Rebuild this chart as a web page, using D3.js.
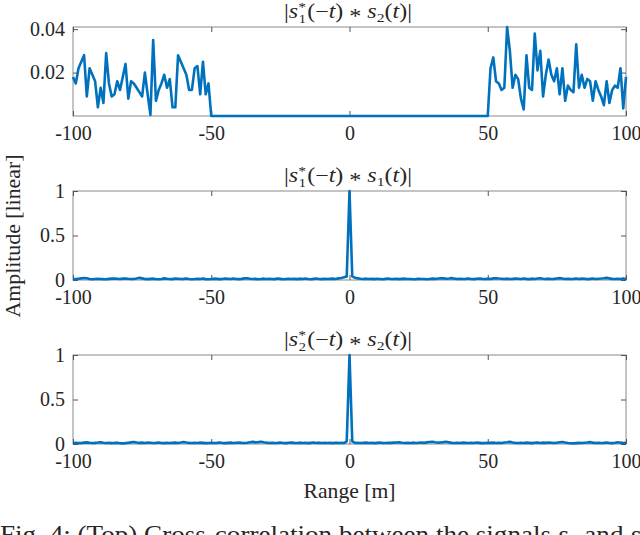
<!DOCTYPE html>
<html><head><meta charset="utf-8">
<script src="https://cdn.jsdelivr.net/npm/d3@7"></script>
<style>body{margin:0;background:#fff}svg{display:block}text{font-family:"Liberation Serif","Times New Roman",serif;fill:#262626}</style>
</head><body><svg id="c" width="640" height="535"></svg>
<script>
const xStart = -100, xStep = 1;
const xTicks = [-100, -50, 0, 50, 100];
const xTickLabels = ["-100", "-50", "0", "50", "100"];
const topTicks = [0.02, 0.04], topTickLabels = ["0.02", "0.04"];
const autoTicks = [0, 0.5, 1], autoTickLabels = ["0", "0.5", "1"];

const cross12 = [
.018,.015,.022,.025,.028,.009,.022,.019,.016,.004,
.013,.006,.029,.015,.009,.010,.016,.012,.018,.024,
.008,.016,.015,.013,.011,.009,.020,.010,.0005,.035,
.007,.012,.015,.019,.013,.017,.004,.004,.028,.025,
.022,.019,.012,.012,.022,.023,.010,.025,.010,.015,
0,0,0,0,0,0,0,0,0,0, 0,0,0,0,0,0,0,0,0,0,
0,0,0,0,0,0,0,0,0,0, 0,0,0,0,0,0,0,0,0,0,
0,0,0,0,0,0,0,0,0,0, 0,0,0,0,0,0,0,0,0,0,
0,0,0,0,0,0,0,0,0,0, 0,0,0,0,0,0,0,0,0,0,
0,0,0,0,0,0,0,0,0,0, 0,0,0,0,0,0,0,0,0,0,
0,
.022,.027,.016,.015,.012,.013,.041,.030,.013,.019,
.017,.008,.003,.028,.013,.012,.038,.021,.030,.009,
.019,.026,.019,.016,.022,.010,.022,.007,.014,.012,
.011,.033,.013,.019,.013,.017,.016,.007,.016,.012,
.009,.005,.016,.006,.012,.014,.013,.022,.0035,.018];

const auto11 = [
.012,.010,.014,.018,.022,.020,.012,.009,.011,.013,
.012,.010,.009,.013,.015,.016,.014,.012,.015,.017,
.014,.012,.011,.016,.024,.018,.012,.010,.013,.015,
.011,.009,.012,.018,.014,.012,.010,.016,.014,.011,
.013,.017,.012,.009,.011,.014,.012,.016,.010,.008,
.011,.015,.013,.010,.012,.016,.014,.011,.017,.012,
.010,.013,.018,.020,.014,.011,.013,.009,.012,.015,
.011,.014,.012,.010,.016,.013,.009,.012,.014,.011,
.013,.010,.015,.012,.017,.011,.009,.013,.016,.012,
.010,.014,.011,.013,.015,.012,.018,.022,.030,.040,
1,
.040,.025,.018,.014,.012,.015,.011,.013,.010,.014,
.012,.009,.013,.016,.011,.012,.014,.010,.013,.015,
.011,.012,.009,.010,.014,.012,.011,.008,.012,.015,
.013,.016,.020,.018,.014,.017,.021,.015,.012,.014,
.011,.013,.016,.012,.010,.014,.017,.013,.011,.015,
.012,.018,.020,.016,.014,.012,.015,.011,.013,.016,
.014,.012,.017,.013,.010,.015,.012,.016,.019,.014,
.012,.015,.011,.013,.017,.021,.016,.012,.014,.011,
.013,.016,.012,.015,.014,.010,.013,.017,.012,.014,
.016,.019,.024,.018,.013,.011,.014,.012,.016,.010];

const auto22 = [
.011,.013,.010,.012,.015,.018,.014,.011,.013,.016,
.020,.014,.011,.013,.010,.012,.015,.009,.007,.010,
.014,.018,.022,.016,.013,.015,.012,.017,.014,.011,
.013,.016,.012,.010,.014,.011,.013,.015,.012,.016,
.022,.017,.013,.011,.014,.012,.015,.013,.010,.012,
.014,.011,.013,.016,.012,.010,.013,.015,.012,.014,
.016,.013,.011,.014,.020,.024,.018,.021,.026,.019,
.015,.012,.014,.011,.013,.016,.012,.010,.014,.017,
.013,.011,.015,.012,.014,.010,.013,.016,.012,.015,
.011,.014,.012,.013,.010,.015,.012,.014,.011,.030,
1,
.030,.012,.014,.011,.013,.015,.012,.014,.010,.013,
.016,.012,.011,.014,.013,.015,.017,.020,.014,.012,
.013,.011,.015,.012,.014,.016,.013,.018,.022,.025,
.019,.015,.017,.021,.026,.018,.013,.011,.014,.012,
.015,.013,.011,.014,.012,.016,.013,.010,.012,.014,
.013,.015,.012,.014,.011,.016,.019,.024,.017,.013,
.011,.014,.012,.015,.013,.010,.014,.016,.012,.015,
.013,.017,.014,.011,.015,.019,.022,.016,.012,.009,
.007,.010,.013,.011,.014,.017,.021,.015,.012,.014,
.011,.013,.016,.012,.010,.014,.019,.015,.012,.013];

const svg = d3.select("#c");
const L = 73, R = 626, FS = 20;
const x = d3.scaleLinear().domain([-100, 100]).range([L, R]);

const panels = [
  {data: cross12, top: 27, bot: 116, dom: [0, 0.041], ticks: topTicks, labels: topTickLabels, a: "1", b: "2"},
  {data: auto11, top: 191, bot: 280, dom: [0, 1], ticks: autoTicks, labels: autoTickLabels, a: "1", b: "1"},
  {data: auto22, top: 355, bot: 444, dom: [0, 1], ticks: autoTicks, labels: autoTickLabels, a: "2", b: "2"}
];

panels.forEach(p => {
  const y = d3.scaleLinear().domain(p.dom).range([p.bot, p.top]);
  const g = svg.append("g");
  g.append("rect").attr("x", L).attr("y", p.top).attr("width", R - L).attr("height", p.bot - p.top)
    .attr("fill", "none").attr("stroke", "#8a8a8a").attr("stroke-width", 1);
  const tl = 5;
  const xb = d3.axisBottom(x).tickValues(xTicks).tickSize(-tl).tickFormat((d, i) => xTickLabels[i]).tickPadding(12);
  const gxb = g.append("g").attr("transform", `translate(0,${p.bot})`).call(xb);
  gxb.select(".domain").remove();
  gxb.selectAll("line").attr("stroke", "#555");
  gxb.selectAll("text").attr("font-size", FS).attr("fill", "#262626").attr("dy", "0.71em").attr("y", 10)
    .style("font-family", '"Liberation Serif",serif');
  const xt = d3.axisTop(x).tickValues(xTicks).tickSize(-tl).tickFormat("");
  const gxt = g.append("g").attr("transform", `translate(0,${p.top})`).call(xt);
  gxt.select(".domain").remove(); gxt.selectAll("line").attr("stroke", "#555");
  const yl = d3.axisLeft(y).tickValues(p.ticks).tickSize(-tl).tickFormat((d, i) => p.labels[i]).tickPadding(8);
  const gyl = g.append("g").attr("transform", `translate(${L},0)`).call(yl);
  gyl.select(".domain").remove(); gyl.selectAll("line").attr("stroke", "#555");
  gyl.selectAll("text").attr("font-size", FS).attr("fill", "#262626").style("font-family", '"Liberation Serif",serif');
  const yr = d3.axisRight(y).tickValues(p.ticks).tickSize(-tl).tickFormat("");
  const gyr = g.append("g").attr("transform", `translate(${R},0)`).call(yr);
  gyr.select(".domain").remove(); gyr.selectAll("line").attr("stroke", "#555");
  const line = d3.line().x((d, i) => x(xStart + i * xStep)).y(d => y(d));
  g.append("path").datum(p.data).attr("d", line).attr("fill", "none")
    .attr("stroke", "#0072BD").attr("stroke-width", 2.6).attr("stroke-linejoin", "round");
  const t = g.append("text").attr("x", 284).attr("y", p.top - 9).attr("font-size", 20)
    .attr("textLength", 128).attr("lengthAdjust", "spacingAndGlyphs");
  t.append("tspan").text("|");
  t.append("tspan").attr("font-style", "italic").text("s");
  t.append("tspan").attr("font-size", 13).attr("dy", -7).text("*");
  t.append("tspan").attr("font-size", 12).attr("dx", -6).attr("dy", 12).text(p.a);
  t.append("tspan").attr("dy", -5).attr("dx", 1).text("(−");
  t.append("tspan").attr("font-style", "italic").text("t");
  t.append("tspan").text(") ");
  t.append("tspan").attr("dy", 5).text("*");
  t.append("tspan").attr("dy", -5).text(" ");
  t.append("tspan").attr("font-style", "italic").text("s");
  t.append("tspan").attr("font-size", 13).attr("dy", 4).text(p.b);
  t.append("tspan").attr("dy", -4).text("(");
  t.append("tspan").attr("font-style", "italic").text("t");
  t.append("tspan").text(")|");
});

svg.append("text").attr("transform", "translate(20,236) rotate(-90)").attr("text-anchor", "middle")
  .attr("font-size", 21).attr("textLength", 163).attr("lengthAdjust", "spacingAndGlyphs").text("Amplitude [linear]");
svg.append("text").attr("x", (L + R) / 2).attr("y", 498).attr("text-anchor", "middle")
  .attr("font-size", 22).attr("textLength", 92).attr("lengthAdjust", "spacingAndGlyphs").text("Range [m]");

const cap = svg.append("text").attr("x", 0).attr("y", 543).attr("font-size", 25).attr("fill", "#222")
  .attr("textLength", 650).attr("lengthAdjust", "spacingAndGlyphs");
cap.append("tspan").text("Fig. 4: (Top) Cross-correlation between the signals ");
cap.append("tspan").attr("font-style", "italic").text("s");
cap.append("tspan").attr("font-size", 17).attr("dy", 4).text("1");
cap.append("tspan").attr("dy", -4).text(" and ");
cap.append("tspan").attr("font-style", "italic").text("s");
cap.append("tspan").attr("font-size", 17).attr("dy", 4).text("2");
</script></body></html>
